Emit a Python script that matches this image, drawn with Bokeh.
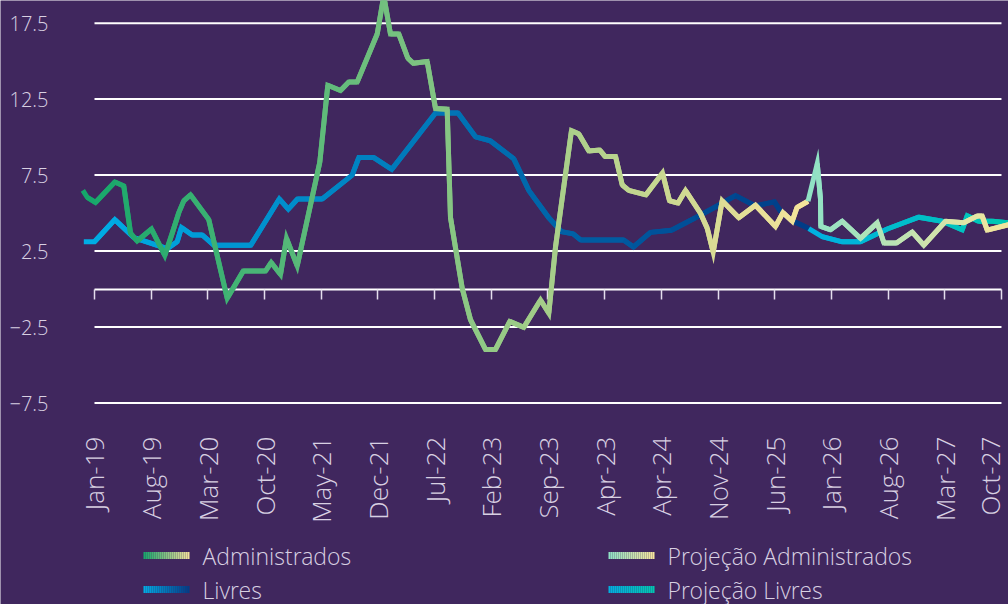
import math
from bokeh.plotting import figure
from bokeh.models import Range1d, FixedTicker, LinearAxis
from bokeh.embed import file_html
from bokeh.resources import INLINE
from bokeh.core.properties import value

# ---------------- data ----------------
x_labels = ["Jan-19", "Aug-19", "Mar-20", "Oct-20", "May-21", "Dec-21", "Jul-22",
            "Feb-23", "Sep-23", "Apr-23", "Apr-24", "Nov-24", "Jun-25", "Jan-26",
            "Aug-26", "Mar-27", "Oct-27"]
x_ticks = [0, 7, 14, 21, 28, 35, 42, 49, 56, 63, 70, 77, 84, 91, 98, 105, 112]
y_ticks = [17.5, 12.5, 7.5, 2.5, -2.5, -7.5]

adm_x = [-1.44, -0.90, 0.12, 2.51, 3.62, 4.45, 5.27, 7.04, 8.68, 9.60,
         10.41, 11.03, 11.85, 14.11, 16.39, 18.36, 21.12, 21.82, 22.97, 23.71,
         25.03, 27.82, 28.81, 30.38, 31.40, 32.44, 34.91, 35.72, 36.55, 37.58,
         38.69, 39.36, 41.08, 42.11, 43.55, 43.96, 45.41, 46.43, 48.28, 49.52,
         51.28, 53.01, 55.08, 56.10, 56.93, 58.90, 59.81, 61.04, 62.40, 63.04,
         64.34, 65.17, 65.98, 68.10, 70.14, 71.01, 72.06, 72.98, 74.84, 75.66,
         76.40, 77.51, 79.56, 81.62, 84.09, 85.02, 86.16, 86.75, 88.11]
adm_y = [6.49, 6.04, 5.70, 7.05, 6.78, 3.68, 3.16, 3.95, 2.21, 3.68,
         5.03, 5.81, 6.20, 4.57, -0.61, 1.18, 1.18, 1.75, 0.96, 3.34,
         1.52, 8.34, 13.41, 13.07, 13.63, 13.63, 16.78, 19.30, 16.78, 16.78,
         15.20, 14.86, 14.98, 11.88, 11.84, 4.71, 0.04, -2.02, -3.97, -3.97,
         -2.13, -2.52, -0.72, -1.59, 2.77, 10.42, 10.21, 9.09, 9.15, 8.73,
         8.73, 6.85, 6.49, 6.20, 7.64, 5.81, 5.66, 6.49, 4.98, 4.01,
         2.43, 5.81, 4.69, 5.52, 4.12, 5.03, 4.46, 5.37, 5.78]

liv_x = [-1.32, 0.00, 2.51, 4.85, 6.92, 8.98, 10.21, 10.74, 12.06, 13.30,
         14.73, 19.30, 22.82, 23.93, 25.07, 28.12, 31.82, 32.64, 34.49, 36.71,
         42.11, 44.89, 47.05, 48.90, 51.78, 53.63, 56.10, 57.67, 59.11, 60.05,
         65.36, 66.56, 68.66, 71.25, 74.21, 76.89, 79.15, 81.62, 83.97, 84.71,
         86.32, 88.21]
liv_y = [3.11, 3.11, 4.57, 3.39, 3.02, 2.66, 3.11, 4.05, 3.56, 3.56,
         2.89, 2.89, 5.93, 5.26, 5.93, 5.93, 7.50, 8.65, 8.65, 7.88,
         11.59, 11.59, 10.02, 9.75, 8.57, 6.49, 4.69, 3.78, 3.63, 3.22,
         3.22, 2.77, 3.73, 3.87, 4.69, 5.47, 6.15, 5.47, 5.74, 5.11,
         4.46, 3.98]

proj_adm_x = [88.11, 89.25, 89.65, 89.69, 90.89, 92.33, 94.59, 96.65, 97.49, 99.04,
              100.98, 102.41, 105.09, 107.35, 109.00, 109.62, 110.24, 112.91]
proj_adm_y = [5.78, 8.26, 5.93, 4.12, 3.90, 4.46, 3.34, 4.36, 3.03, 3.03,
              3.75, 2.89, 4.46, 4.37, 4.80, 4.80, 3.88, 4.24]

proj_liv_x = [88.21, 89.86, 92.33, 94.59, 97.89, 101.79, 104.68, 107.15, 107.77,
              109.16, 110.89, 112.91]
proj_liv_y = [3.98, 3.45, 3.11, 3.11, 3.95, 4.73, 4.46, 3.90, 4.83,
              4.46, 4.46, 4.35]

series_names = ["Administrados", "Livres", "Projeção Administrados", "Projeção Livres"]

# ---------------- style / layout ----------------
W, H = 1008, 604
BG = "#40275e"
TXT = "#d8d0e2"
FONT = "Open Sans Light"
ADM_C = ("#14a66a", "#f6e49b")
LIV_C = ("#00aee6", "#003b86")
PADM_C = ("#8ee2c6", "#f6e59c")
PLIV_C = ("#00b0e2", "#00c9b2")
LW = 5

X_START, X_END = -11.608, 112.867
Y_START, Y_END = -20.76, 18.99
AXIS_BOTTOM = -8.0          # where the date labels hang from


def sx2x(px):   # page pixel -> x data (layout placement only)
    return X_START + px * (X_END - X_START) / W


def sy2y(py):   # page pixel -> y data (layout placement only)
    return Y_END - py * (Y_END - Y_START) / H


def _rgb(h):
    h = h.lstrip("#")
    return tuple(int(h[i:i + 2], 16) for i in (0, 2, 4))


def mix(c0, c1, t):
    a, b = _rgb(c0), _rgb(c1)
    t = max(0.0, min(1.0, t))
    return "#%02x%02x%02x" % tuple(int(round(a[k] + (b[k] - a[k]) * t)) for k in range(3))


def gradient_line(fig, xs, ys, cols):
    n = len(xs)
    x0, x1 = xs[0], xs[-1]
    mxs, mys, mcs = [], [], []
    for i in range(n - 1):
        mxs.append(xs[i:i + 3])
        mys.append(ys[i:i + 3])
        t = ((xs[i] + xs[i + 1]) / 2.0 - x0) / (x1 - x0)
        mcs.append(mix(cols[0], cols[1], t))
    fig.multi_line(xs=mxs, ys=mys, line_color=mcs, line_width=LW,
                   line_join="miter", line_cap="butt")


# ---------------- figure ----------------
p = figure(width=W, height=H,
           x_range=Range1d(X_START, X_END), y_range=Range1d(Y_START, Y_END),
           output_backend="svg", toolbar_location=None,
           x_axis_type=None, y_axis_type=None,
           background_fill_color=BG, border_fill_color=BG, outline_line_color=None,
           min_border_left=0, min_border_right=0, min_border_top=0,
           min_border_bottom=0)

# value labels
yaxis = LinearAxis(fixed_location=sx2x(80), ticker=FixedTicker(ticks=y_ticks),
                   axis_line_color=None, major_tick_line_color=None,
                   minor_tick_line_color=None, major_label_standoff=26,
                   major_label_text_font=FONT, major_label_text_font_size="20px",
                   major_label_text_color=TXT)
p.add_layout(yaxis, "left")

# date labels (hanging below the plotting area)
xaxis = LinearAxis(fixed_location=AXIS_BOTTOM, ticker=FixedTicker(ticks=x_ticks),
                   major_label_overrides={t: lab for t, lab in zip(x_ticks, x_labels)},
                   major_label_orientation=math.pi / 2,
                   axis_line_color=None, major_tick_line_color=None,
                   minor_tick_line_color=None, major_label_standoff=20,
                   major_label_text_font=FONT, major_label_text_font_size="26px",
                   major_label_text_color=TXT)
p.add_layout(xaxis, "below")

# zero line with tick marks
zaxis = LinearAxis(fixed_location=0, ticker=FixedTicker(ticks=x_ticks),
                   bounds=(x_ticks[0], x_ticks[-1]),
                   axis_line_color="white", axis_line_width=2,
                   major_tick_out=10, major_tick_in=0,
                   major_tick_line_color="#e4dded", major_tick_line_width=1.5,
                   minor_tick_line_color=None,
                   major_label_text_color=None, major_label_text_font_size="1px",
                   level="underlay")
p.add_layout(zaxis, "below")

# horizontal grid lines spanning the labelled period
p.segment(x0=[x_ticks[0]] * len(y_ticks), x1=[x_ticks[-1]] * len(y_ticks),
          y0=y_ticks, y1=y_ticks, line_color="white", line_width=2)

gradient_line(p, liv_x, liv_y, LIV_C)
gradient_line(p, adm_x, adm_y, ADM_C)
gradient_line(p, proj_liv_x, proj_liv_y, PLIV_C)
gradient_line(p, proj_adm_x, proj_adm_y, PADM_C)

# ---------------- legend (gradient swatches) ----------------
leg_cols = [ADM_C, LIV_C, PADM_C, PLIV_C]
leg_px = [143, 143, 608, 608]
leg_py = [555, 589, 555, 589]
SW, NP = 46, 23
for cols, lx, ly in zip(leg_cols, leg_px, leg_py):
    xs0 = [sx2x(lx + SW * k / NP) for k in range(NP)]
    xs1 = [sx2x(lx + SW * (k + 1) / NP) for k in range(NP)]
    cs = [mix(cols[0], cols[1], (k + 0.5) / NP) for k in range(NP)]
    yy = [sy2y(ly)] * NP
    p.segment(x0=xs0, x1=xs1, y0=yy, y1=yy, line_color=cs, line_width=7, line_cap="butt")
p.text(x=[sx2x(lx + 59) for lx in leg_px], y=[sy2y(ly) for ly in leg_py],
       text=series_names,
       text_font=value(FONT), text_font_size="23px", text_color=TXT,
       text_baseline="middle", text_align="left")

open("out.html", "w").write(file_html(p, INLINE))
